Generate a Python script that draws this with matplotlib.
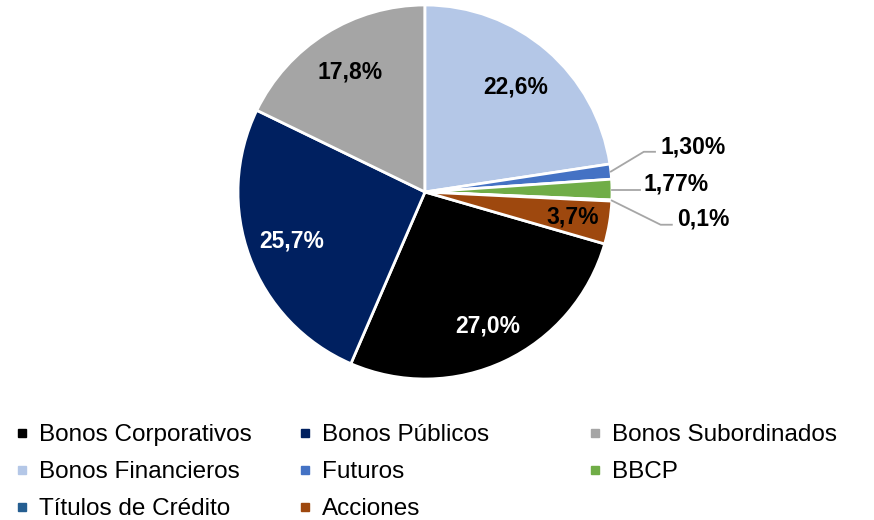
import matplotlib
matplotlib.use("Agg")
import matplotlib.pyplot as plt
from matplotlib.lines import Line2D
import numpy as np

plt.rcParams['font.family'] = ['Liberation Sans', 'DejaVu Sans']

# Composicion de la cartera (%)
categories = ["Bonos Corporativos", "Bonos Públicos", "Bonos Subordinados",
              "Bonos Financieros", "Futuros", "BBCP",
              "Títulos de Crédito", "Acciones"]
values = [27.0, 25.7, 17.8, 22.6, 1.30, 1.77, 0.1, 3.7]
pct_labels = ["27,0%", "25,7%", "17,8%", "22,6%", "1,30%", "1,77%", "0,1%", "3,7%"]
colors = ["#000000", "#002060", "#A5A5A5", "#B4C7E7",
          "#4472C4", "#70AD47", "#255E91", "#9E480E"]
text_colors = ["white", "white", "black", "black", "black", "black", "black", "black"]

# labels placed outside with leader lines: index -> (text x, line y) in pie units
outside = {4: (1.26, 0.215), 5: (1.17, None), 6: (1.35, -0.175)}
elbow_x = {4: 1.17, 5: None, 6: 1.26}
# radius of the inside labels (as excel places them)
label_r = {0: 0.79, 1: 0.76, 2: 0.76, 3: 0.74, 7: 0.80}

W, H = 874, 520
fig = plt.figure(figsize=(W / 100, H / 100), dpi=100)
cx, cy, r = 425, 192, 187
ax = fig.add_axes([(cx - r) / W, (H - cy - r) / H, 2 * r / W, 2 * r / H])

# Financieros starts at 12 o'clock, clockwise
start = 90 + 360 * sum(values[:3]) / sum(values)
wedges, _ = ax.pie(values, colors=colors, startangle=start, counterclock=False,
                   radius=1, wedgeprops=dict(edgecolor="white", linewidth=2))
ax.set_xlim(-1, 1)
ax.set_ylim(-1, 1)
ax.set_aspect("equal")
ax.axis("off")

for i, w in enumerate(wedges):
    ang = np.deg2rad((w.theta1 + w.theta2) / 2)
    if i in outside:
        tx, ly = outside[i]
        ex, ey = np.cos(ang), np.sin(ang)
        if elbow_x[i] is not None:
            ax.plot([ex, elbow_x[i], tx - 0.03], [ey, ly, ly], color="#A6A6A6",
                    lw=1.3, clip_on=False)
        else:
            ly = ey
            ax.plot([ex, tx - 0.02], [ey, ey], color="#A6A6A6", lw=1.3, clip_on=False)
        ax.text(tx, ly + 0.028, pct_labels[i], ha="left", va="center",
                fontsize=16.5, fontweight="bold", color="black")
    else:
        rr = label_r[i]
        ax.text(rr * np.cos(ang), rr * np.sin(ang), pct_labels[i], ha="center",
                va="center", fontsize=16.5, fontweight="bold", color=text_colors[i])

# legend: 3 columns laid out row by row
handles = [Line2D([], [], marker="s", ls="", color=c, markersize=6) for c in colors]
col_x = [22, 305, 595]
for col in range(3):
    idx = list(range(col, len(categories), 3))
    fig.legend([handles[i] for i in idx], [categories[i] for i in idx],
               loc="upper left", bbox_to_anchor=((col_x[col] - 7) / W, 1 - 424 / H),
               frameon=False, fontsize=17.5, handlelength=0.55, handletextpad=0.45,
               labelspacing=0.62, borderpad=0, borderaxespad=0)

fig.savefig("out.png", dpi=100)
